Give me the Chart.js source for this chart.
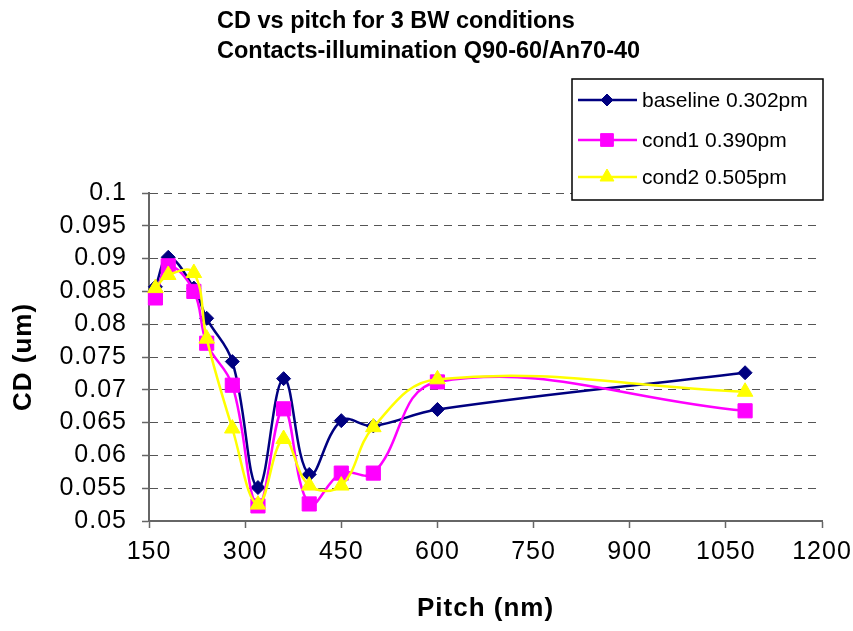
<!DOCTYPE html>
<html>
<head>
<meta charset="utf-8">
<title>CD vs pitch</title>
<script src="https://cdn.jsdelivr.net/npm/chart.js@4/dist/chart.umd.min.js"></script>
<style>
  html, body { margin: 0; padding: 0; background: #fff; }
  #wrap { width: 853px; height: 631px; }
</style>
</head>
<body>
<div id="wrap"><canvas id="cdChart" width="853" height="631"></canvas></div>
<script>
const FONT = 'Arial, "Liberation Sans", sans-serif';

// chart data
const titleLines = ['CD vs pitch for 3 BW conditions', 'Contacts-illumination Q90-60/An70-40'];
const seriesNames = ['baseline 0.302pm', 'cond1 0.390pm', 'cond2 0.505pm'];
const pitch = [160, 180, 220, 240, 280, 320, 360, 400, 450, 500, 600, 1080];
const baseline = [0.0857, 0.0902, 0.0855, 0.0809, 0.0743, 0.0551, 0.0717, 0.0571, 0.0653, 0.0645, 0.0670, 0.0726];
const cond1 = [0.0840, 0.0889, 0.0850, 0.0771, 0.0707, 0.0523, 0.0671, 0.0526, 0.0573, 0.0573, 0.0712, 0.0668];
const cond2 = [0.0855, 0.0875, 0.0878, 0.0778, 0.0641, 0.0525, 0.0625, 0.0554, 0.0554, 0.0643, 0.0716, 0.0697];
const xTicks = [150, 300, 450, 600, 750, 900, 1050, 1200];
const yTicks = [0.05, 0.055, 0.06, 0.065, 0.07, 0.075, 0.08, 0.085, 0.09, 0.095, 0.1];

// styles
const seriesColors = ['#000080', '#FF00FF', '#FFFF00'];
const seriesMarkers = ['rectRot', 'rect', 'triangle'];
const markerSizes = [7, 10, 9];
const legendMarkerSizes = [6, 9, 8];

function toPoints(ys) {
	return pitch.map((x, i) => ({ x: x, y: ys[i] }));
}

const allSeries = [baseline, cond1, cond2];
const datasets = allSeries.map((ys, i) => ({
	label: seriesNames[i],
	data: toPoints(ys),
	showLine: true,
	tension: 0.4,
	borderColor: seriesColors[i],
	backgroundColor: seriesColors[i],
	borderWidth: 2.5,
	pointStyle: seriesMarkers[i],
	pointRadius: markerSizes[i],
	pointHoverRadius: markerSizes[i],
	pointBorderWidth: 1,
	pointBorderColor: seriesColors[i],
	pointBackgroundColor: seriesColors[i],
	order: 3 - i,
	clip: false
}));

function drawMarker(ctx, style, r, x, y, color) {
	ctx.fillStyle = color;
	ctx.strokeStyle = color;
	ctx.lineWidth = 1;
	ctx.beginPath();
	if (style === 'rectRot') {
		ctx.moveTo(x - r, y); ctx.lineTo(x, y - r); ctx.lineTo(x + r, y); ctx.lineTo(x, y + r);
	} else if (style === 'rect') {
		const s = r * Math.SQRT1_2;
		ctx.rect(x - s, y - s, 2 * s, 2 * s);
	} else {
		ctx.moveTo(x, y - r);
		ctx.lineTo(x + r * 0.866, y + r / 2);
		ctx.lineTo(x - r * 0.866, y + r / 2);
	}
	ctx.closePath();
	ctx.fill();
	ctx.stroke();
}

const decorations = {
	id: 'decorations',
	beforeDraw(chart) {
		chart.ctx.letterSpacing = '1px';
	},
	beforeDatasetsDraw(chart) {
		chart.ctx.letterSpacing = '0px';
	},
	afterDraw(chart) {
		const ctx = chart.ctx;
		ctx.save();
		ctx.letterSpacing = '0px';
		// title, left aligned block
		ctx.fillStyle = '#000';
		ctx.font = 'bold 23.5px ' + FONT;
		ctx.textAlign = 'left';
		ctx.textBaseline = 'alphabetic';
		titleLines.forEach((t, i) => ctx.fillText(t, 217, 28 + i * 30));

		// legend box
		ctx.fillStyle = '#fff';
		ctx.fillRect(572, 79, 251, 121);
		ctx.strokeStyle = '#000';
		ctx.lineWidth = 1.5;
		ctx.strokeRect(572, 79, 251, 121);

		const rows = [100, 140, 177];
		chart.data.datasets.forEach((ds, i) => {
			const y = rows[i];
			ctx.strokeStyle = seriesColors[i];
			ctx.lineWidth = 2.5;
			ctx.beginPath();
			ctx.moveTo(578, y);
			ctx.lineTo(637, y);
			ctx.stroke();
			drawMarker(ctx, seriesMarkers[i], legendMarkerSizes[i], 607, y, seriesColors[i]);
			ctx.fillStyle = '#000';
			ctx.font = '21px ' + FONT;
			ctx.textBaseline = 'middle';
			ctx.fillText(ds.label, 642, y + 1);
		});
		ctx.restore();
	}
};

const ctx = document.getElementById('cdChart');
const cdChart = new Chart(ctx, {
	type: 'scatter',
	data: { datasets: datasets },
	options: {
		responsive: false,
		animation: false,
		events: [],
		layout: { padding: { top: 193, right: 31, left: 0, bottom: 0 } },
		plugins: {
			legend: { display: false },
			title: { display: false },
			tooltip: { enabled: false }
		},
		scales: {
			x: {
				type: 'linear',
				min: 150,
				max: 1200,
				afterBuildTicks: (s) => { s.ticks = xTicks.map(v => ({ value: v })); },
				afterFit: (s) => { s.height = 110; s.paddingRight = 0; s.paddingLeft = 0; },
				grid: { drawOnChartArea: false, drawTicks: true, tickLength: 7, tickColor: '#666', tickWidth: 1.5 },
				border: { color: '#666', width: 2 },
				ticks: {
					color: '#000',
					padding: 9,
					maxRotation: 0,
					autoSkip: false,
					font: { family: FONT, size: 25 },
					callback: (v) => String(v)
				},
				title: {
					display: true,
					text: 'Pitch (nm)',
					color: '#000',
					padding: { top: 0, bottom: 7 },
					font: { family: FONT, size: 26, weight: 'bold' }
				}
			},
			y: {
				type: 'linear',
				min: 0.05,
				max: 0.1,
				afterBuildTicks: (s) => { s.ticks = yTicks.map(v => ({ value: v })); },
				afterFit: (s) => { s.width = 149; },
				grid: { color: '#555', lineWidth: 1, drawTicks: true, tickLength: 7, tickColor: '#666', tickWidth: 1.5 },
				border: { color: '#666', width: 2, dash: [8, 6] },
				ticks: {
					color: '#000',
					padding: 15,
					autoSkip: false,
					font: { family: FONT, size: 25 },
					callback: (v) => String(+Number(v).toFixed(3))
				},
				title: {
					display: true,
					text: 'CD (um)',
					color: '#000',
					padding: { top: 8, bottom: 0 },
					font: { family: FONT, size: 26, weight: 'bold' }
				}
			}
		}
	},
	plugins: [decorations]
});
</script>
</body>
</html>
